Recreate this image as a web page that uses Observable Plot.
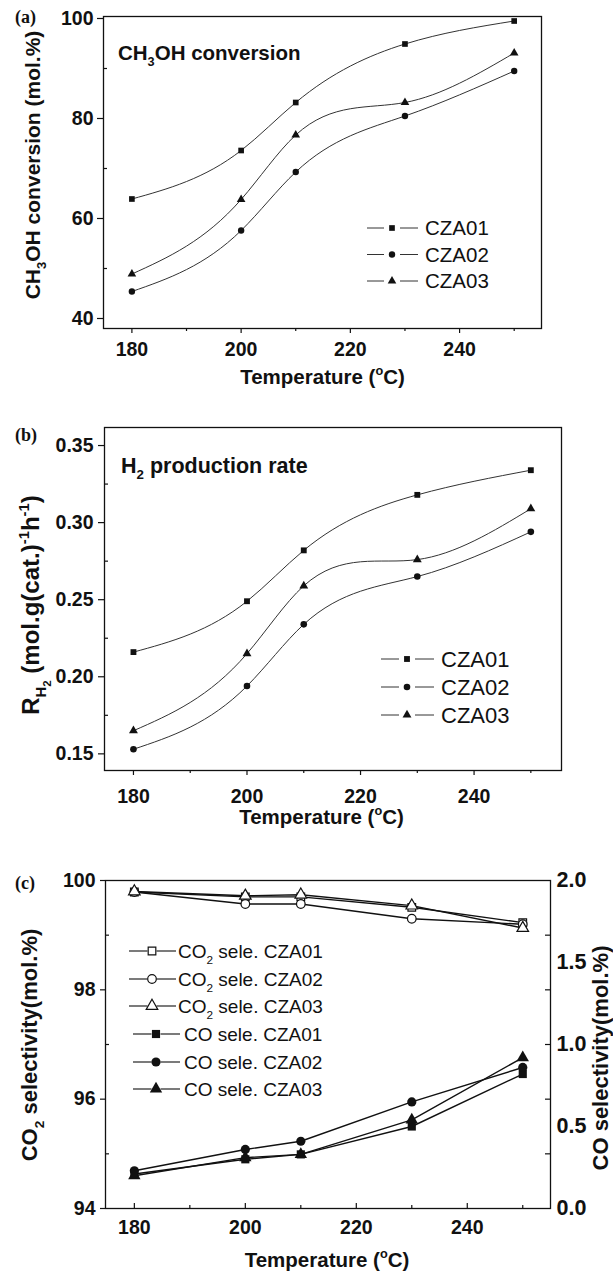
<!DOCTYPE html>
<html><head><meta charset="utf-8">
<script src="https://cdn.jsdelivr.net/npm/d3@7"></script>
<script src="https://cdn.jsdelivr.net/npm/@observablehq/plot@0.6"></script>
<style>
html,body{margin:0;padding:0;background:#fff;}
#page{position:relative;width:613px;height:1278px;overflow:hidden;background:#fff;}
</style></head><body><div id="page"></div>
<script>
// ---------- data ----------
const temps = [180, 200, 210, 230, 250];
const samples = ["CZA01", "CZA02", "CZA03"];
const convCZA01 = [63.9, 73.6, 83.2, 94.9, 99.5];
const convCZA02 = [45.4, 57.6, 69.3, 80.5, 89.5];
const convCZA03 = [48.9, 63.8, 76.7, 83.2, 93.1];
const h2CZA01 = [0.216, 0.249, 0.282, 0.318, 0.334];
const h2CZA02 = [0.153, 0.194, 0.234, 0.265, 0.294];
const h2CZA03 = [0.165, 0.215, 0.259, 0.276, 0.309];
const co2SelCZA01 = [99.79, 99.70, 99.70, 99.51, 99.23];
const co2SelCZA02 = [99.79, 99.57, 99.57, 99.30, 99.20];
const co2SelCZA03 = [99.80, 99.72, 99.74, 99.54, 99.13];
const coSelCZA01 = [0.21, 0.30, 0.33, 0.50, 0.82];
const coSelCZA02 = [0.23, 0.36, 0.41, 0.65, 0.86];
const coSelCZA03 = [0.20, 0.31, 0.33, 0.54, 0.92];
// ticks
const tempTicks = [180, 200, 220, 240];
const tempMinorTicks = [190, 210, 230, 250];
const convTicks = [40, 60, 80, 100];
const convMinorTicks = [50, 70, 90];
const h2Ticks = [0.15, 0.20, 0.25, 0.30, 0.35];
const h2MinorTicks = [0.175, 0.225, 0.275, 0.325];
const co2Ticks = [94, 96, 98, 100];
const co2MinorTicks = [95, 97, 99];
const coTicks = [0, 0.5, 1.0, 1.5, 2.0];
const rightAxisTickMarks = [95, 96, 97, 98, 99]; // Origin right-axis ticks (on CO2 scale)

// ---------- helpers ----------
const W = 613;
const FONT = "'Liberation Sans', Arial, Helvetica, sans-serif";
const SERIF = "'Liberation Serif', 'Times New Roman', serif";
const INK = "#111";
const page = document.getElementById("page");
const symbolNames = ["square", "circle", "triangle"];
const d3Symbols = [d3.symbolSquare, d3.symbolCircle, d3.symbolTriangle];

const rows = (series) => samples.flatMap((s, k) => temps.map((t, i) => ({t, v: series[k][i], s})));

// natural cubic spline y(x) (Origin "spline" connection), as a d3-style curve
function splineX(context) {
  let xs, ys;
  return {
    areaStart() {}, areaEnd() {},
    lineStart() { xs = []; ys = []; },
    point(x, y) { xs.push(+x); ys.push(+y); },
    lineEnd() {
      const n = xs.length;
      if (!n) return;
      context.moveTo(xs[0], ys[0]);
      if (n < 3) { if (n === 2) context.lineTo(xs[1], ys[1]); return; }
      const h = [], s = [];
      for (let i = 0; i < n - 1; i++) { h[i] = xs[i + 1] - xs[i]; s[i] = (ys[i + 1] - ys[i]) / h[i]; }
      const m = n - 2, a = [], b = [], c = [], d = [];
      for (let k = 0; k < m; k++) {
        const i = k + 1;
        a[k] = h[i - 1]; b[k] = 2 * (h[i - 1] + h[i]); c[k] = h[i]; d[k] = 6 * (s[i] - s[i - 1]);
      }
      for (let k = 1; k < m; k++) { const w = a[k] / b[k - 1]; b[k] -= w * c[k - 1]; d[k] -= w * d[k - 1]; }
      const sol = new Array(m);
      sol[m - 1] = d[m - 1] / b[m - 1];
      for (let k = m - 2; k >= 0; k--) sol[k] = (d[k] - c[k] * sol[k + 1]) / b[k];
      const M = [0, ...sol, 0];
      for (let i = 0; i < n - 1; i++) {
        const d0 = s[i] - h[i] * (2 * M[i] + M[i + 1]) / 6;
        const d1 = s[i] + h[i] * (M[i] + 2 * M[i + 1]) / 6;
        context.bezierCurveTo(xs[i] + h[i] / 3, ys[i] + d0 * h[i] / 3,
                              xs[i + 1] - h[i] / 3, ys[i + 1] - d1 * h[i] / 3, xs[i + 1], ys[i + 1]);
      }
    }
  };
}

function place(svg, top) {
  svg.style.position = "absolute";
  svg.style.top = top + "px";
  svg.style.left = "0px";
  page.appendChild(svg);
}
const baseStyle = {fontFamily: FONT, fontSize: "19.5px", fontWeight: "bold", color: INK, background: "transparent", overflow: "visible"};

// ---------- panel (a) ----------
{
  const height = 360, mt = 16, mb = 32, ml = 103, mr = 72;
  const innerW = W - ml - mr;
  const data = rows([convCZA01, convCZA02, convCZA03]);
  place(Plot.plot({
    width: W, height, marginTop: mt, marginBottom: mb, marginLeft: ml, marginRight: mr,
    x: {domain: [174.8, 255]}, y: {domain: [38, 100.4]},
    symbol: {domain: samples, range: symbolNames},
    style: baseStyle,
    marks: [
      Plot.axisY(convTicks, {tickSize: 6, tickPadding: 4, label: null, tickFormat: d3.format("d"), strokeWidth: 1.2}),
      Plot.tickY(convMinorTicks, {y: d => d, insetRight: innerW - 4, stroke: INK, strokeWidth: 1.2}),
      Plot.axisX(tempTicks, {tickSize: 5, tickPadding: 9, label: null, tickFormat: d3.format("d"), strokeWidth: 1.2}),
      Plot.axisX(tempMinorTicks, {tickSize: 3, tickFormat: () => "", label: null, strokeWidth: 1.2}),
      Plot.line(data, {x: "t", y: "v", z: "s", curve: splineX, stroke: "#333", strokeWidth: 1}),
      Plot.dot(data, {x: "t", y: "v", symbol: "s", fill: INK, stroke: "none", r: 3.2}),
      Plot.frame({stroke: INK, strokeWidth: 1.3})
    ]
  }), 0);
}

// ---------- panel (b) ----------
{
  const height = 390, mt = 7, mb = 40, ml = 104, mr = 52;
  const innerW = W - ml - mr;
  const data = rows([h2CZA01, h2CZA02, h2CZA03]);
  place(Plot.plot({
    width: W, height, marginTop: mt, marginBottom: mb, marginLeft: ml, marginRight: mr,
    x: {domain: [174.9, 255.4]}, y: {domain: [0.1392, 0.3617]},
    symbol: {domain: samples, range: symbolNames},
    style: baseStyle,
    marks: [
      Plot.axisY(h2Ticks, {tickSize: 6, tickPadding: 5, label: null, tickFormat: d3.format(".2f"), strokeWidth: 1.2}),
      Plot.tickY(h2MinorTicks, {y: d => d, insetRight: innerW - 4, stroke: INK, strokeWidth: 1.2}),
      Plot.axisX(tempTicks, {tickSize: 5, tickPadding: 14, label: null, tickFormat: d3.format("d"), strokeWidth: 1.2}),
      Plot.axisX(tempMinorTicks, {tickSize: 3, tickFormat: () => "", label: null, strokeWidth: 1.2}),
      Plot.line(data, {x: "t", y: "v", z: "s", curve: splineX, stroke: "#333", strokeWidth: 1}),
      Plot.dot(data, {x: "t", y: "v", symbol: "s", fill: INK, stroke: "none", r: 3.3}),
      Plot.frame({stroke: INK, strokeWidth: 1.3})
    ]
  }), 420);
}

// ---------- panel (c) ----------
{
  const height = 400, mt = 40, mb = 32, ml = 105, mr = 63;
  const innerW = W - ml - mr, innerH = height - mt - mb;
  const co2 = rows([co2SelCZA01, co2SelCZA02, co2SelCZA03]);
  const co = rows([coSelCZA01, coSelCZA02, coSelCZA03]);
  const common = {width: W, height, marginTop: mt, marginBottom: mb, marginLeft: ml, marginRight: mr,
    symbol: {domain: samples, range: symbolNames}, style: baseStyle};
  place(Plot.plot({
    ...common,
    x: {domain: [174.8, 255]},
    y: {domain: [94, 100]},
    marks: [
      Plot.axisY(co2Ticks, {tickSize: 5, tickPadding: 5, label: null, tickFormat: d3.format("d"), strokeWidth: 1.2}),
      Plot.tickY(co2MinorTicks, {y: d => d, insetRight: innerW - 4, stroke: INK, strokeWidth: 1.2}),
      Plot.tickY(rightAxisTickMarks, {y: d => d, insetLeft: innerW - 5, stroke: INK, strokeWidth: 1.2}),
      Plot.axisX(tempTicks, {tickSize: 0, tickPadding: 12, label: null, tickFormat: d3.format("d")}),
      Plot.tickX(tempTicks, {x: d => d, insetTop: innerH - 5, stroke: INK, strokeWidth: 1.2}),
      Plot.tickX(tempMinorTicks, {x: d => d, insetTop: innerH - 3, stroke: INK, strokeWidth: 1.2}),
      Plot.line(co2, {x: "t", y: "v", z: "s", stroke: INK, strokeWidth: 1.4}),
      Plot.dot(co2, {x: "t", y: "v", symbol: "s", fill: "#fff", stroke: INK, strokeWidth: 1.2, r: 4.3}),
      Plot.frame({stroke: INK, strokeWidth: 1.3})
    ]
  }), 840);
  place(Plot.plot({
    ...common,
    x: {domain: [174.8, 255], axis: null},
    y: {domain: [0, 2]},
    marks: [
      Plot.axisY(coTicks, {anchor: "right", tickSize: 0, tickPadding: 6, label: null, fontSize: 21.5, tickFormat: d3.format(".1f")}),
      Plot.line(co, {x: "t", y: "v", z: "s", stroke: INK, strokeWidth: 1.4}),
      Plot.dot(co, {x: "t", y: "v", symbol: "s", fill: INK, stroke: "none", r: 4.6})
    ]
  }), 840);
}

// ---------- text overlay (titles, annotations, legends) ----------
const ov = d3.create("svg").attr("width", W).attr("height", 1278)
  .style("position", "absolute").style("top", "0px").style("left", "0px")
  .attr("font-family", FONT).attr("fill", INK);

function rich(x, y, parts, {size = 20, weight = "bold", anchor = "start", rotate = false, family = FONT} = {}) {
  const t = ov.append("text").attr("font-size", size).attr("font-weight", weight)
    .attr("text-anchor", anchor).attr("font-family", family);
  if (rotate) t.attr("transform", `translate(${x},${y}) rotate(-90)`);
  else t.attr("x", x).attr("y", y);
  let cur = 0;
  for (const p of parts) {
    const [str, kind = "n"] = Array.isArray(p) ? p : [p];
    const [sh, sc] = {n: [0, 1], sub: [0.3, 0.62], sup: [-0.42, 0.62], subsub: [0.5, 0.48]}[kind];
    const shift = sh * size;
    t.append("tspan").attr("dy", shift - cur).attr("font-size", sc * size).text(str);
    cur = shift;
  }
  return t;
}

function legendRow(x0, xm, x1, y, k, filled, r, gap, textX, parts, fs, sw) {
  ov.append("line").attr("x1", x0).attr("x2", xm - gap).attr("y1", y).attr("y2", y).attr("stroke", "#333").attr("stroke-width", sw);
  ov.append("line").attr("x1", xm + gap).attr("x2", x1).attr("y1", y).attr("y2", y).attr("stroke", "#333").attr("stroke-width", sw);
  ov.append("path").attr("d", d3.symbol(d3Symbols[k], Math.PI * r * r)())
    .attr("transform", `translate(${xm},${y})`)
    .attr("fill", filled ? INK : "#fff").attr("stroke", filled ? "none" : INK).attr("stroke-width", 1.2);
  rich(textX, y + 0.358 * fs, parts, {size: fs, weight: "normal"});
}

// (a)
rich(15, 23, ["(a)"], {size: 18, family: SERIF});
rich(40, 165, ["CH", ["3", "sub"], "OH conversion (mol.%)"], {size: 21, anchor: "middle", rotate: true});
rich(322.5, 384, ["Temperature (", ["o", "sup"], "C)"], {size: 20.5, anchor: "middle"});
rich(118, 59.5, ["CH", ["3", "sub"], "OH conversion"], {size: 20.5});
[228, 254.5, 281].forEach((y, k) => legendRow(367, 392, 418, y, k, true, 3.2, 8, 425, [samples[k]], 20.5, 1));

// (b)
rich(15, 441, ["(b)"], {size: 18, family: SERIF});
rich(39, 605, ["R", ["H", "sub"], ["2", "subsub"], " (mol.g(cat.)", ["-1", "sup"], "h", ["-1", "sup"], ")"], {size: 24, anchor: "middle", rotate: true});
rich(321.5, 824, ["Temperature (", ["o", "sup"], "C)"], {size: 20.5, anchor: "middle"});
rich(121, 473, ["H", ["2", "sub"], " production rate"], {size: 21.5});
[659, 687, 715].forEach((y, k) => legendRow(381, 407, 434, y, k, true, 3.3, 8, 441, [samples[k]], 22, 1));

// (c)
rich(15, 889, ["(c)"], {size: 18, family: SERIF});
rich(37, 1045, ["CO", ["2", "sub"], " selectivity(mol.%)"], {size: 22, anchor: "middle", rotate: true});
rich(608, 1058, ["CO selectivity(mol.%)"], {size: 22, anchor: "middle", rotate: true});
rich(327, 1267, ["Temperature (", ["o", "sup"], "C)"], {size: 20.5, anchor: "middle"});
[951, 979, 1006].forEach((y, k) => legendRow(129, 152, 176, y, k, false, 4.3, 4.5, 178, ["CO", ["2", "sub"], " sele. " + samples[k]], 19, 1.3));
[1034, 1062, 1089].forEach((y, k) => legendRow(133, 156, 180, y, k, true, 4.6, 4.5, 184, ["CO sele. " + samples[k]], 19, 1.3));

page.appendChild(ov.node());
</script>
</body></html>
